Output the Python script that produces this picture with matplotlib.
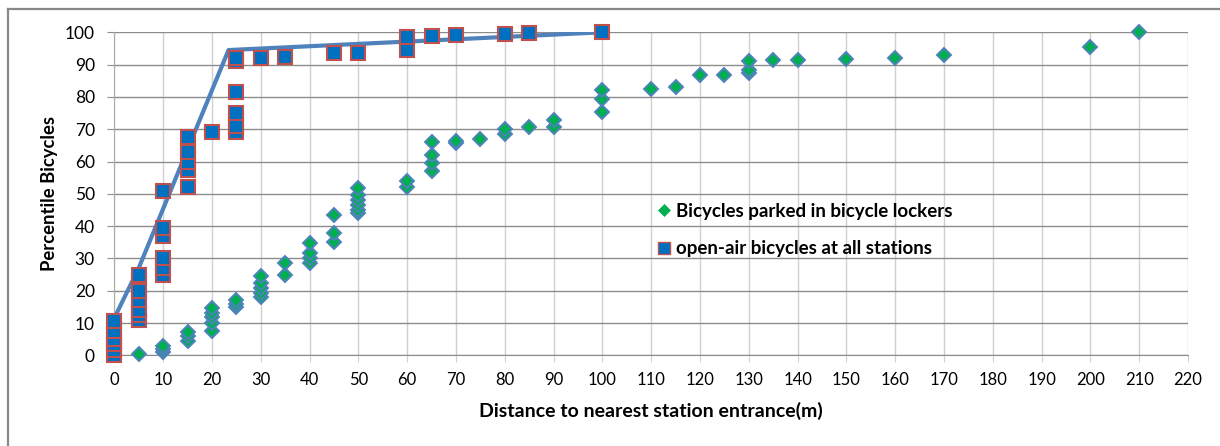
import matplotlib
matplotlib.use("Agg")
import matplotlib.pyplot as plt
from matplotlib.lines import Line2D

# ---------------- data ----------------
# open-air bicycles at all stations (squares)
open_x = [0, 0, 0, 0, 0, 0,
          5, 5, 5, 5, 5, 5,
          10, 10, 10, 10, 10, 10,
          15, 15, 15, 15, 15,
          20,
          25, 25, 25, 25, 25, 25,
          30, 35, 45, 50, 60, 60, 65, 70, 80, 85, 100]
open_y = [0, 1.5, 3.5, 5, 7.5, 10.5,
          11, 12.5, 14, 17, 20, 25,
          25, 27, 30, 37, 39.5, 51,
          52, 57.5, 60, 63, 67.5,
          69,
          69, 71, 75, 81.5, 91, 92,
          92, 92.2, 93.5, 93.5, 94.5, 98.6, 99, 99.2, 99.6, 99.8, 100]

# bicycles parked in bicycle lockers (diamonds)
lock_x = [5,
          10, 10, 10,
          15, 15, 15,
          20, 20, 20, 20, 20,
          25, 25, 25,
          30, 30, 30, 30, 30,
          35, 35,
          40, 40, 40, 40,
          45, 45, 45,
          50, 50, 50, 50, 50, 50,
          60, 60,
          65, 65, 65, 65,
          70, 70, 75, 80, 80, 85, 90, 90,
          100, 100, 100,
          110, 115, 120, 125, 130, 130, 130,
          135, 140, 150, 160, 170, 200, 210]
lock_y = [0.4,
          1.1, 2, 2.9,
          4.5, 6, 7.3,
          7.5, 10, 12, 13, 14.5,
          15, 16, 17,
          18, 19.2, 20.7, 22.3, 24.5,
          25, 28.5,
          28.5, 30, 31.6, 34.9,
          35.2, 37.8, 43.4,
          44, 45, 46.5, 48, 49.5, 51.7,
          52.2, 54,
          57, 59.5, 62, 66,
          65.6, 66.5, 67, 68.4, 70.1, 70.6, 70.8, 73,
          75.3, 79.5, 82.2,
          82.5, 83.2, 86.8, 86.8, 87.5, 88.3, 91.2,
          91.4, 91.4, 91.7, 92, 93, 95.5, 100]

# trend line for open-air bicycles
line_x = [0, 5, 23.4, 100]
line_y = [11.5, 27, 94.5, 100]

x_ticks = list(range(0, 221, 10))
y_ticks = list(range(0, 101, 10))

label_lock = "Bicycles parked in bicycle lockers"
label_open = "open-air bicycles at all stations"
x_title = "Distance to nearest station entrance(m)"
y_title = "Percentile Bicycles"

# ---------------- style ----------------
BLUE_LINE = "#4F81BD"
SQ_FILL = "#0070C0"
SQ_EDGE = "#C0504D"
DIA_FILL = "#00B050"
DIA_EDGE = "#4F81BD"

plt.rcParams['font.family'] = ['Lato', 'DejaVu Sans']

fig = plt.figure(figsize=(12.2, 4.46), dpi=100)
fig.patch.set_facecolor("white")

W, H = 1220, 446
left, right, top, bottom = 114.3, 1188, 32.3, 355.3
ax = fig.add_axes([left / W, 1 - bottom / H, (right - left) / W, (bottom - top) / H])

# outer chart frame (left & top edges visible)
fig.add_artist(Line2D([7.5 / W, 7.5 / W], [0, 1 - 9 / H], color="#888888", lw=1.6,
                      transform=fig.transFigure))
fig.add_artist(Line2D([7.5 / W, 1], [1 - 9 / H, 1 - 9 / H], color="#888888", lw=1.6,
                      transform=fig.transFigure))

ax.set_xlim(0, 220)
ax.set_ylim(0, 100)
ax.set_xticks(x_ticks)
ax.set_yticks(y_ticks)

ax.grid(axis='x', color="#D0D0D0", lw=1.0, zorder=0)
ax.grid(axis='y', color="#8C8C8C", lw=1.0, zorder=0)
ax.set_axisbelow(True)
for s in ['top', 'right']:
    ax.spines[s].set_visible(False)
ax.spines['left'].set_color("#AAAAAA")
ax.spines['bottom'].set_color("#8C8C8C")
ax.tick_params(axis='x', length=5, color="#D0D0D0", labelsize=12, pad=7)
ax.tick_params(axis='y', length=5, color="#8C8C8C", labelsize=12.5, pad=9)

ax.plot(line_x, line_y, color=BLUE_LINE, lw=3, zorder=2, solid_capstyle='butt')

ax.plot(open_x, open_y, ls='none', marker='s', ms=9.6, mfc=SQ_FILL, mec=SQ_EDGE,
        mew=1.5, zorder=3, clip_on=False)
ax.plot(lock_x, lock_y, ls='none', marker='D', ms=7.0, mfc=DIA_FILL, mec=DIA_EDGE,
        mew=1.4, zorder=4, clip_on=False)

ax.set_ylabel(y_title, fontsize=13.3, fontweight='bold', labelpad=5)
ax.set_xlabel(x_title, fontsize=14, fontweight='bold', labelpad=10)

h1 = Line2D([], [], ls='none', marker='D', ms=6.5, mfc=DIA_FILL, mec=DIA_FILL, mew=0.5)
h2 = Line2D([], [], ls='none', marker='s', ms=9, mfc=SQ_FILL, mec=SQ_EDGE, mew=1)
leg = ax.legend([h1, h2], [label_lock, label_open], loc='upper left',
                bbox_to_anchor=((657 - left) / (right - left), (bottom - 203) / (bottom - top)),
                frameon=False, prop={'weight': 'bold', 'size': 13.5},
                handlelength=0.7, handletextpad=0.3, labelspacing=1.08,
                borderaxespad=0, borderpad=0)

fig.savefig("out.png", dpi=100, facecolor="white")
